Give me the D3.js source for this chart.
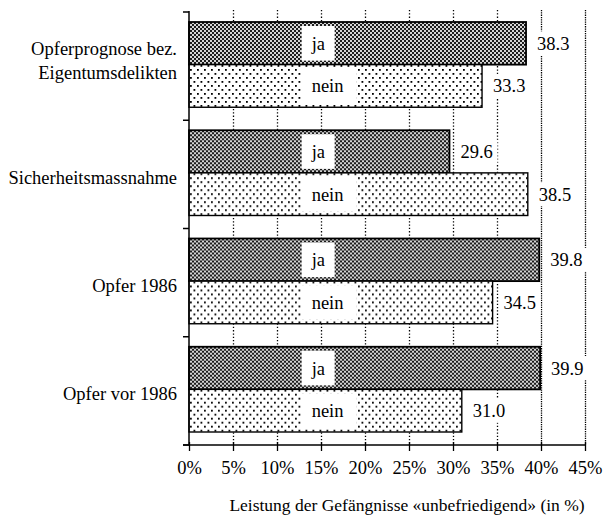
<!DOCTYPE html>
<html>
<head>
<meta charset="utf-8">
<script src="https://cdn.jsdelivr.net/npm/d3@7"></script>
<style>
  html, body { margin: 0; padding: 0; background: #fff; }
  svg { display: block; }
  text { font-family: "Liberation Serif", "Times New Roman", serif; fill: #000; }
</style>
</head>
<body>
<svg id="chart" width="603" height="523"></svg>
<script>
// Categories (one entry per group, split into lines) and the two answer series
const categories = [
  ["Opferprognose bez.", "Eigentumsdelikten"],
  ["Sicherheitsmassnahme"],
  ["Opfer 1986"],
  ["Opfer vor 1986"]
];
const seriesNames = ["ja", "nein"];
const jaValues = [38.3, 29.6, 39.8, 39.9];
const neinValues = [33.3, 38.5, 34.5, 31.0];
const tickValues = [0, 5, 10, 15, 20, 25, 30, 35, 40, 45];
const axisTitle = "Leistung der Gefängnisse «unbefriedigend» (in %)";

const rows = categories.map((c, i) => ({
  key: c.join(" "),
  lines: c,
  values: [
    { series: "ja", value: jaValues[i] },
    { series: "nein", value: neinValues[i] }
  ]
}));

const svg = d3.select("#chart");
const defs = svg.append("defs");

// Coarse dark checker stipple for "ja"
const pJa = defs.append("pattern").attr("id", "patJa")
  .attr("width", 4).attr("height", 4).attr("patternUnits", "userSpaceOnUse");
pJa.append("rect").attr("width", 4).attr("height", 4).attr("fill", "#d4d4d4");
pJa.append("rect").attr("width", 2).attr("height", 2).attr("fill", "#1c1c1c");
pJa.append("rect").attr("x", 2).attr("y", 2).attr("width", 2).attr("height", 2).attr("fill", "#1c1c1c");

// Sparse staggered dots for "nein"
const pNein = defs.append("pattern").attr("id", "patNein")
  .attr("width", 7).attr("height", 8).attr("patternUnits", "userSpaceOnUse");
pNein.append("rect").attr("width", 7).attr("height", 8).attr("fill", "#fff");
pNein.append("rect").attr("x", 1).attr("y", 1).attr("width", 1.8).attr("height", 1.8).attr("fill", "#000");
pNein.append("rect").attr("x", 4.5).attr("y", 5).attr("width", 1.8).attr("height", 1.8).attr("fill", "#000");

const fills = { ja: "url(#patJa)", nein: "url(#patNein)" };

const x = d3.scaleLinear().domain([0, 45]).range([189, 585]);
const y = d3.scaleBand().domain(rows.map(r => r.key)).range([12, 445]);
const ySub = d3.scaleBand().domain(seriesNames).range([10, y.bandwidth() - 13]);

// Dotted vertical grid lines
svg.append("g").selectAll("line")
  .data(tickValues.filter(t => t > 0))
  .join("line")
  .attr("x1", d => x(d) + 0.5).attr("x2", d => x(d) + 0.5)
  .attr("y1", 10).attr("y2", 445)
  .attr("stroke", "#000")
  .attr("stroke-width", 1.3)
  .attr("stroke-dasharray", d => d >= 40 ? "1.3,1" : "1.3,2");

// Bars
const groups = svg.append("g").selectAll("g")
  .data(rows).join("g")
  .attr("transform", d => `translate(0,${y(d.key)})`);

groups.selectAll("rect.bar")
  .data(d => d.values)
  .join("rect")
  .attr("class", "bar")
  .attr("x", x(0))
  .attr("y", d => ySub(d.series))
  .attr("width", d => x(d.value) - x(0))
  .attr("height", ySub.bandwidth())
  .attr("fill", d => fills[d.series])
  .attr("stroke", "#000")
  .attr("stroke-width", d => d.series === "ja" ? 1.8 : 1.4);

// In-bar series labels on white boxes
const inLabel = groups.selectAll("g.inlabel")
  .data(d => d.values)
  .join("g")
  .attr("class", "inlabel");
inLabel.append("rect")
  .attr("x", x(12.8))
  .attr("y", d => ySub(d.series) + 4)
  .attr("width", d => d.series === "ja" ? 33 : 55)
  .attr("height", ySub.bandwidth() - 8)
  .attr("fill", "#fff");
inLabel.append("text")
  .attr("x", x(12.8) + 10)
  .attr("y", d => ySub(d.series) + ySub.bandwidth() / 2)
  .attr("dy", "0.35em")
  .attr("font-size", 18.5)
  .text(d => d.series);

// Value labels beside each bar
const vLabel = groups.selectAll("g.vlabel")
  .data(d => d.values)
  .join("g")
  .attr("class", "vlabel");
vLabel.append("rect")
  .attr("x", d => x(d.value) + 8)
  .attr("y", d => ySub(d.series) + ySub.bandwidth() / 2 - 12)
  .attr("width", 40)
  .attr("height", 24)
  .attr("fill", "#fff");
vLabel.append("text")
  .attr("x", d => x(d.value) + 11)
  .attr("y", d => ySub(d.series) + ySub.bandwidth() / 2)
  .attr("dy", "0.35em")
  .attr("font-size", 18.5)
  .text(d => d.value.toFixed(1));

// Category labels
const catText = svg.append("g").selectAll("text")
  .data(rows).join("text")
  .attr("x", 177)
  .attr("text-anchor", "end")
  .attr("font-size", 18.5);
catText.each(function (d) {
  const n = d.lines.length;
  const cy = y(d.key) + y.bandwidth() / 2 + 3 - (n - 1) * 9;
  d3.select(this).selectAll("tspan")
    .data(d.lines).join("tspan")
    .attr("x", 177)
    .attr("y", (l, i) => cy + (i - (n - 1) / 2) * 24)
    .attr("dy", "0.35em")
    .text(l => l);
});

// Y axis: line with ticks at group boundaries
const yBounds = rows.map(r => y(r.key)).concat([y.range()[1]]);
svg.append("line")
  .attr("x1", x(0)).attr("x2", x(0))
  .attr("y1", 11).attr("y2", 445)
  .attr("stroke", "#000").attr("stroke-width", 1.5);
svg.append("g").selectAll("line")
  .data(yBounds).join("line")
  .attr("x1", x(0) - 6).attr("x2", x(0))
  .attr("y1", d => d).attr("y2", d => d)
  .attr("stroke", "#000").attr("stroke-width", 1.5);

// X axis
const xAxis = d3.axisBottom(x)
  .tickValues(tickValues)
  .tickSize(6)
  .tickPadding(10)
  .tickFormat(d => d + "%");
const gx = svg.append("g")
  .attr("transform", "translate(0,445)")
  .call(xAxis);
gx.select(".domain").attr("d", `M${x(0) - 6},0H${x(45)}`).attr("stroke-width", 1.5);
gx.selectAll(".tick line").attr("stroke-width", 1.3).attr("y1", -3);
gx.selectAll(".tick text")
  .attr("font-family", "Liberation Serif, serif")
  .attr("font-size", 18.5)
  .attr("fill", "#000");

// Axis title
svg.append("text")
  .attr("x", 407)
  .attr("y", 505)
  .attr("text-anchor", "middle")
  .attr("dy", "0.35em")
  .attr("font-size", 17.5)
  .text(axisTitle);
</script>
</body>
</html>
